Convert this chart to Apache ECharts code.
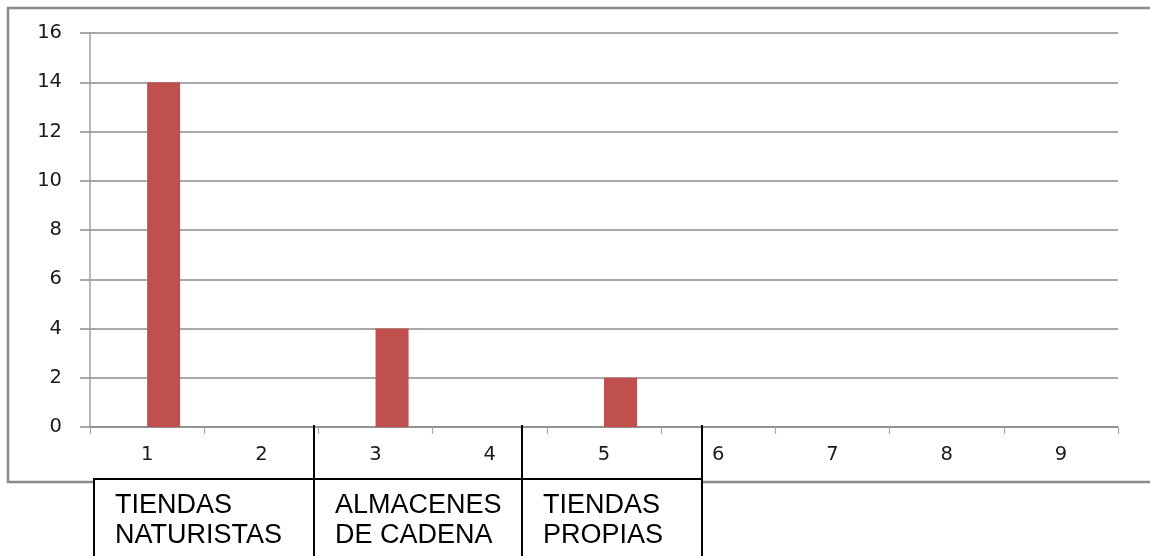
<!DOCTYPE html>
<html>
<head>
<meta charset="utf-8">
<script src="https://cdn.jsdelivr.net/npm/echarts@6/dist/echarts.min.js"></script>
<style>
  html, body { margin: 0; padding: 0; background: #fff; }
  #chart { width: 1150px; height: 556px; }
</style>
</head>
<body>
<div id="chart"></div>
<script>
// Categories on the x axis
const categories = ['1', '2', '3', '4', '5', '6', '7', '8', '9'];
// Empty first series (keeps the clustered offset) and the counted series
const seriesA = [null, null, null, null, null, null, null, null, null];
const seriesB = [14, 0, 4, 0, 2, 0, 0, 0, 0];
// Y axis range and step
const yMin = 0, yMax = 16, yStep = 2;
// Group labels drawn in the table under the axis
const groupLabels = [
  ['TIENDAS', 'NATURISTAS'],
  ['ALMACENES', 'DE CADENA'],
  ['TIENDAS', 'PROPIAS']
];

const chart = echarts.init(document.getElementById('chart'));

const gridLeft = 90, gridTop = 33, gridRight = 32, gridBottom = 129;

// Table geometry (column edges in px)
const colEdges = [94, 314, 522, 702];
const tableTop = 479;
const textLeftPad = 21;

const graphics = [
  // chart frame (right edge runs past the page)
  {
    type: 'rect', z: 0, silent: true,
    shape: { x: 8, y: 8, width: 1250, height: 474 },
    style: { fill: null, stroke: '#8a8a8a', lineWidth: 2.5 }
  },
  // table background
  {
    type: 'rect', z: 10, silent: true,
    shape: { x: colEdges[0], y: tableTop, width: colEdges[3] - colEdges[0], height: 100 },
    style: { fill: '#fff', stroke: '#000', lineWidth: 2 }
  }
];
// column separators, running up to the axis
for (let i = 1; i < colEdges.length; i++) {
  graphics.push({
    type: 'line', z: 11, silent: true,
    shape: { x1: colEdges[i], y1: 425, x2: colEdges[i], y2: 560 },
    style: { stroke: '#000', lineWidth: 2 }
  });
}
groupLabels.forEach((lines, i) => {
  lines.forEach((t, j) => {
    graphics.push({
      type: 'text', z: 12, silent: true,
      x: colEdges[i] + textLeftPad, y: 505.5 + j * 30,
      style: {
        text: t, fill: '#000',
        fontFamily: 'Liberation Sans', fontSize: 27,
        align: 'left', verticalAlign: 'middle'
      }
    });
  });
});

const tickFont = { fontFamily: 'DejaVu Sans', fontSize: 19.5, color: '#1a1a1a' };

chart.setOption({
  animation: false,
  backgroundColor: '#fff',
  grid: { left: gridLeft, top: gridTop, right: gridRight, bottom: gridBottom, containLabel: false },
  xAxis: {
    type: 'category',
    data: categories,
    axisLine: { lineStyle: { color: '#8c8c8c', width: 1.5 } },
    axisTick: { show: true, length: 7, lineStyle: { color: '#a8a8a8', width: 1.2 } },
    axisLabel: Object.assign({ margin: 18 }, tickFont),
    splitLine: { show: false }
  },
  yAxis: {
    type: 'value',
    min: yMin, max: yMax, interval: yStep,
    axisLine: { show: true, lineStyle: { color: '#a0a0a0', width: 1.5 } },
    axisTick: { show: true, length: 10, lineStyle: { color: '#8c8c8c', width: 1.5 } },
    axisLabel: Object.assign({ margin: 28 }, tickFont),
    splitLine: { show: true, lineStyle: { color: '#8c8c8c', width: 1.5 } }
  },
  series: [
    {
      type: 'bar', data: seriesA, barWidth: 33, barGap: '0%',
      itemStyle: { color: '#4F81BD' }
    },
    {
      type: 'bar', data: seriesB, barWidth: 33, barGap: '0%',
      itemStyle: { color: '#C0504D' }
    }
  ],
  graphic: graphics
});
</script>
</body>
</html>
